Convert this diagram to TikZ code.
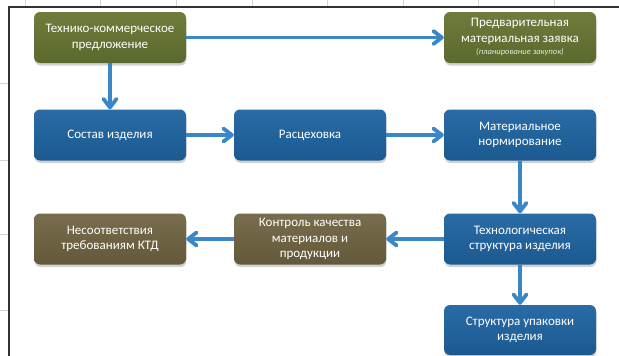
\documentclass[tikz,border=0pt]{standalone}
\usepackage{fontspec}
\setmainfont{Carlito}
\usetikzlibrary{arrows.meta,shadows}
\definecolor{grn}{HTML}{5A692C}
\definecolor{grntop}{HTML}{6E7D3C}
\definecolor{blu}{HTML}{1B5A90}
\definecolor{blutop}{HTML}{2A6BA6}
\definecolor{brn}{HTML}{635839}
\definecolor{brntop}{HTML}{786D4D}
\definecolor{arr}{HTML}{3A87C8}
\definecolor{gridc}{HTML}{D4D4D4}
\tikzset{
  box/.style={rectangle, rounded corners=6pt, minimum width=152pt, minimum height=51pt,
    align=center, text=white, font=\fontsize{13}{15.5}\selectfont, inner sep=2pt,
    drop shadow={shadow xshift=0.5pt, shadow yshift=-2.5pt, opacity=0.35}},
  gbox/.style={box, top color=grntop, bottom color=grn},
  bbox/.style={box, top color=blutop, bottom color=blu},
  nbox/.style={box, top color=brntop, bottom color=brn},
  conn/.style={draw=arr, line width=3.8pt, -{Straight Barb[round,length=8.5pt,width=13pt]}},
  gridline/.style={draw=gridc, line width=0.7pt},
  frameline/.style={draw=black!80, line width=1.3pt}
}
\begin{document}
\begin{tikzpicture}[x=1pt,y=-1pt]
\useasboundingbox (0,0) rectangle (619,356);
\fill[white] (0,0) rectangle (619,356);
% spreadsheet grid
\foreach \gx in {25,100,176,252,327,403,478,554} \draw[gridline] (\gx,0) -- (\gx,7);
\foreach \gy in {83,160,234,310} \draw[gridline] (0,\gy) -- (9,\gy);
\draw[frameline] (9,356) -- (9,7) -- (619,7);
% nodes
\node[gbox] (tkp) at (110,37.5) {Технико-коммерческое\\предложение};
\node[gbox] (pmz) at (520,37.5) {Предварительная\\материальная заявка\\[-3pt]{\fontsize{8.5}{10}\selectfont\itshape\color{white!85!grn}(планирование закупок)}};
\node[bbox] (sost) at (110,135) {Состав изделия};
\node[bbox] (rasc) at (310,135) {Расцеховка};
\node[bbox] (matn) at (520,135) {Материальное\\нормирование};
\node[bbox] (tech) at (520,239) {Технологическая\\структура изделия};
\node[nbox] (kont) at (310,239) {Контроль качества\\материалов и\\продукции};
\node[nbox] (nes) at (110,239) {Несоответствия\\требованиям КТД};
\node[bbox, minimum height=50pt] (upak) at (520,330) {Структура упаковки\\изделия};
% connectors
\draw[conn] (tkp) -- (pmz);
\draw[conn] (tkp) -- (sost);
\draw[conn] (sost) -- (rasc);
\draw[conn] (rasc) -- (matn);
\draw[conn] (matn) -- (tech);
\draw[conn] (tech) -- (kont);
\draw[conn] (kont) -- (nes);
\draw[conn] (tech) -- (upak);
\end{tikzpicture}
\end{document}
